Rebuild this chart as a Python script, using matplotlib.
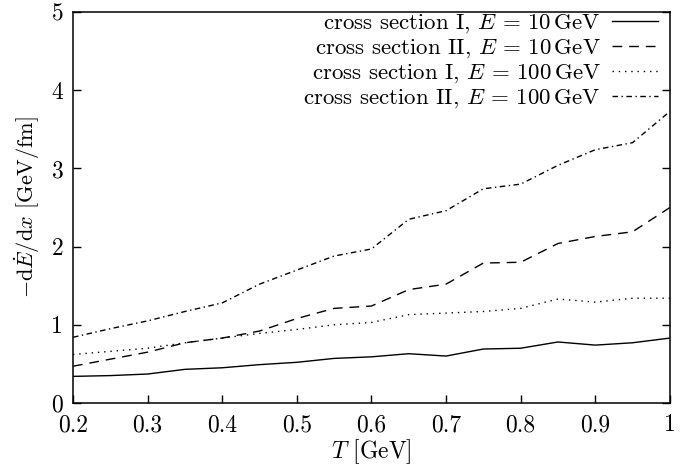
import numpy as np
import matplotlib
matplotlib.use("Agg")
import matplotlib.pyplot as plt

plt.rcParams["font.family"] = ["cmr10"]
plt.rcParams["mathtext.fontset"] = "cm"
plt.rcParams["axes.formatter.use_mathtext"] = True

T = [0.2, 0.25, 0.3, 0.35, 0.4, 0.45, 0.5, 0.55, 0.6,
     0.65, 0.7, 0.75, 0.8, 0.85, 0.9, 0.95, 1.0]

# -dE/dx in GeV/fm
cs1_e10 = [0.34, 0.35, 0.37, 0.43, 0.45, 0.49, 0.52, 0.57, 0.59,
           0.63, 0.60, 0.69, 0.70, 0.78, 0.74, 0.77, 0.83]
cs2_e10 = [0.47, 0.56, 0.65, 0.77, 0.83, 0.92, 1.08, 1.21, 1.24,
           1.45, 1.52, 1.79, 1.80, 2.04, 2.13, 2.19, 2.50]
cs1_e100 = [0.62, 0.66, 0.70, 0.77, 0.83, 0.89, 0.94, 1.00, 1.03,
            1.13, 1.15, 1.17, 1.21, 1.33, 1.29, 1.34, 1.34]
cs2_e100 = [0.84, 0.95, 1.05, 1.17, 1.28, 1.52, 1.70, 1.88, 1.97,
            2.35, 2.46, 2.74, 2.80, 3.04, 3.24, 3.33, 3.73]

labels = [
    r"cross section I, $E\,=\,10\,\mathrm{GeV}$",
    r"cross section II, $E\,=\,10\,\mathrm{GeV}$",
    r"cross section I, $E\,=\,100\,\mathrm{GeV}$",
    r"cross section II, $E\,=\,100\,\mathrm{GeV}$",
]

fig = plt.figure(figsize=(6.92, 4.68), dpi=100)
ax = fig.add_axes([0.1055, 0.139, 0.8625, 0.835])

lw = 1.0
ax.plot(T, cs1_e10, color="black", lw=lw, linestyle="-", label=labels[0])
ax.plot(T, cs2_e10, color="black", lw=lw, linestyle=(0, (7, 5)), label=labels[1])
ax.plot(T, cs1_e100, color="black", lw=lw, linestyle=(0, (1, 3.5)), label=labels[2])
ax.plot(T, cs2_e100, color="black", lw=lw, linestyle=(0, (4, 2.5, 1, 2.5)), label=labels[3])

ax.set_xlim(0.2, 1.0)
ax.set_ylim(0, 5)
ax.set_xticks([0.2, 0.3, 0.4, 0.5, 0.6, 0.7, 0.8, 0.9, 1.0])
ax.set_xticklabels(["0.2", "0.3", "0.4", "0.5", "0.6", "0.7", "0.8", "0.9", "1"])
ax.set_yticks([0, 1, 2, 3, 4, 5])
ax.set_yticklabels(["0", "1", "2", "3", "4", "5"])
ax.tick_params(axis="both", direction="in", length=6, width=1.0, labelsize=17)
ax.tick_params(axis="x", pad=8)
ax.tick_params(axis="y", right=True, pad=7)
for s in ax.spines.values():
    s.set_linewidth(1.1)

ax.set_xlabel(r"$T$ [GeV]", fontsize=17, labelpad=1)
ax.set_ylabel(r"$-\mathrm{d}\dot{E}/\mathrm{d}x$ [GeV/fm]", fontsize=16, labelpad=7)

ax.legend(loc="upper right", bbox_to_anchor=(0.98, 1.0), frameon=False,
          markerfirst=False, fontsize=16.5, handlelength=2.0, handletextpad=0.5,
          labelspacing=0.1, borderaxespad=0, borderpad=0)

fig.savefig("out.png", dpi=100)
